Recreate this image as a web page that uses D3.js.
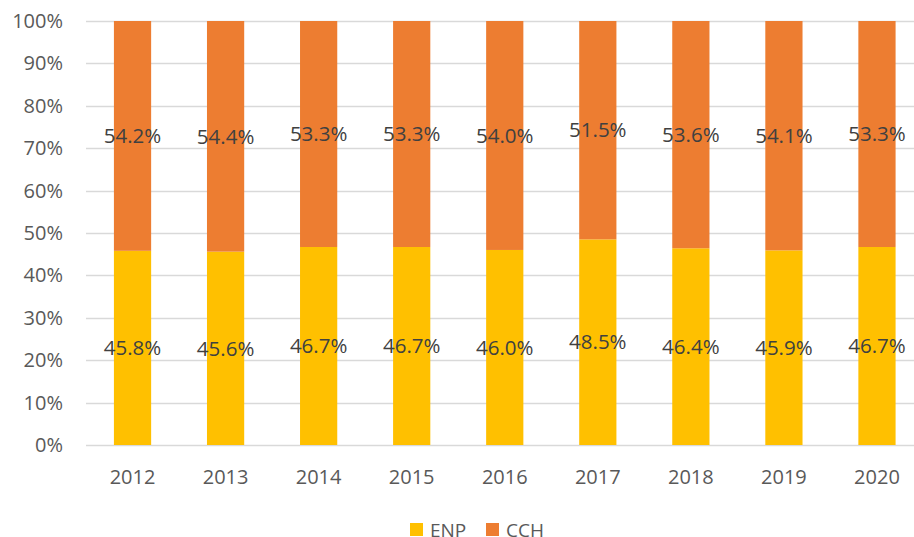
<!DOCTYPE html>
<html>
<head>
<meta charset="utf-8">
<script src="https://cdn.jsdelivr.net/npm/d3@7"></script>
<style>
  body { margin: 0; background: #fff; }
  svg { display: block; font-family: "Open Sans", "Noto Sans", sans-serif; }
</style>
</head>
<body>
<svg width="914" height="537"></svg>
<script>
// data (share of each year, in %)
var years = ["2012", "2013", "2014", "2015", "2016", "2017", "2018", "2019", "2020"];
var enp = [45.8, 45.6, 46.7, 46.7, 46.0, 48.5, 46.4, 45.9, 46.7];
var cch = [54.2, 54.4, 53.3, 53.3, 54.0, 51.5, 53.6, 54.1, 53.3];
var keys = ["ENP", "CCH"];
var yTicks = [0, 10, 20, 30, 40, 50, 60, 70, 80, 90, 100];

var colors = { ENP: "#FFC000", CCH: "#ED7D31" };

var svg = d3.select("svg");
// plot area (right side runs past the picture edge, as in the original)
var plotLeft = 86, plotRight = 923.5, plotTop = 21, plotBottom = 445;

var data = years.map(function(yr, i) {
  return { year: yr, ENP: enp[i], CCH: cch[i] };
});

var x = d3.scaleBand()
  .domain(years)
  .range([plotLeft, plotRight])
  .paddingInner(0.6)
  .paddingOuter(0.3);

var y = d3.scaleLinear()
  .domain([0, 100])
  .range([plotBottom, plotTop]);

// gridlines
svg.append("g")
  .selectAll("line")
  .data(yTicks)
  .enter().append("line")
    .attr("x1", plotLeft)
    .attr("x2", 914)
    .attr("y1", function(d) { return Math.round(y(d)) + 0.5; })
    .attr("y2", function(d) { return Math.round(y(d)) + 0.5; })
    .attr("stroke", "#D9D9D9")
    .attr("stroke-width", 1.5);

// y axis labels
svg.append("g")
  .selectAll("text")
  .data(yTicks)
  .enter().append("text")
    .attr("x", 63)
    .attr("y", function(d) { return y(d); })
    .attr("dy", "0.35em")
    .attr("text-anchor", "end")
    .attr("font-size", "20px")
    .attr("fill", "#595959")
    .text(function(d) { return d + "%"; });

// stacked bars
var series = d3.stack().keys(keys)(data);

var layer = svg.append("g")
  .selectAll("g")
  .data(series)
  .enter().append("g")
    .attr("fill", function(d) { return colors[d.key]; });

layer.selectAll("rect")
  .data(function(d) { return d; })
  .enter().append("rect")
    .attr("x", function(d) { return x(d.data.year); })
    .attr("y", function(d) { return y(d[1]); })
    .attr("width", x.bandwidth())
    .attr("height", function(d) { return y(d[0]) - y(d[1]); });

// data labels
layer.selectAll("text")
  .data(function(d) { return d; })
  .enter().append("text")
    .attr("x", function(d) { return x(d.data.year) + x.bandwidth() / 2; })
    .attr("y", function(d) { return y((d[0] + d[1]) / 2); })
    .attr("dy", "0.35em")
    .attr("text-anchor", "middle")
    .attr("font-size", "20.5px")
    .attr("fill", "#404040")
    .text(function(d) { return (d[1] - d[0]).toFixed(1) + "%"; });

// x labels
svg.append("g")
  .selectAll("text")
  .data(years)
  .enter().append("text")
    .attr("x", function(d) { return x(d) + x.bandwidth() / 2; })
    .attr("y", 477)
    .attr("dy", "0.35em")
    .attr("text-anchor", "middle")
    .attr("font-size", "20px")
    .attr("fill", "#595959")
    .text(function(d) { return d; });

// legend
var legendX = [410, 486];
var legend = svg.append("g")
  .selectAll("g")
  .data(keys)
  .enter().append("g")
    .attr("transform", function(d, i) { return "translate(" + legendX[i] + ",523)"; });

legend.append("rect")
  .attr("width", 13)
  .attr("height", 13)
  .attr("fill", function(d) { return colors[d]; });

legend.append("text")
  .attr("x", 20)
  .attr("y", 7)
  .attr("dy", "0.35em")
  .attr("font-size", "19px")
  .attr("fill", "#595959")
  .text(function(d) { return d; });
</script>
</body>
</html>
